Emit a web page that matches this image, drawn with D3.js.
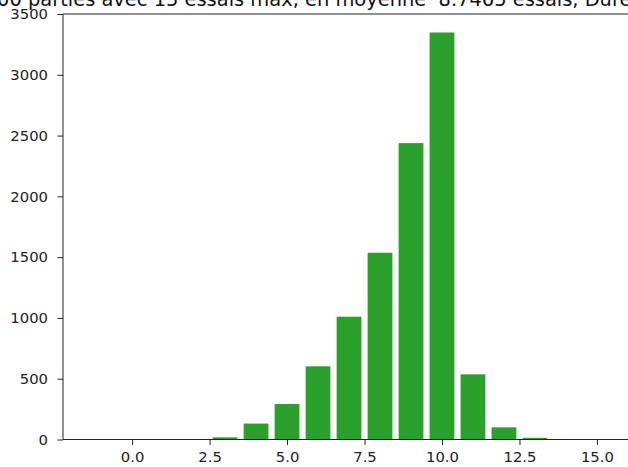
<!DOCTYPE html>
<html><head><meta charset="utf-8">
<script src="https://cdn.jsdelivr.net/npm/d3@7"></script>
<style>
html,body{margin:0;padding:0;background:#fff;overflow:hidden;}
svg{display:block;font-family:"DejaVu Sans",sans-serif;}
</style></head>
<body><svg id="c" width="628" height="467"></svg>
<script>
const titleText = "Sur 10000 parties avec 15 essais max, en moyenne  8.7465 essais, Durée : 0.51 s";
const essais = [3, 4, 5, 6, 7, 8, 9, 10, 11, 12, 13];
const parties = [18, 131, 292, 602, 1010, 1536, 2438, 3348, 536, 100, 14];
const xTicks = [0.0, 2.5, 5.0, 7.5, 10.0, 12.5, 15.0];
const yTicks = [0, 500, 1000, 1500, 2000, 2500, 3000, 3500];
const xDomain = [-2.23, 16.39];
const yDomain = [0, 3500];

const svg = d3.select("#c");
const L = 63, R = 640, T = 14, B = 439.5;
const x = d3.scaleLinear().domain(xDomain).range([L, R]);
const y = d3.scaleLinear().domain(yDomain).range([B, T]);

svg.append("g").selectAll("rect").data(essais).join("rect")
  .attr("x", (d) => x(d - 0.4))
  .attr("width", (d) => x(d + 0.4) - x(d - 0.4))
  .attr("y", (d, i) => y(parties[i]))
  .attr("height", (d, i) => y(0) - y(parties[i]))
  .attr("fill", "#2ca02c");

const FS = 14.8;
const xAxis = d3.axisBottom(x).tickValues(xTicks).tickFormat(d3.format(".1f")).tickSize(5.5).tickPadding(6);
const gx = svg.append("g").attr("transform", `translate(0,${B})`).call(xAxis);
const yAxis = d3.axisLeft(y).tickValues(yTicks).tickFormat(d3.format("d")).tickSize(5.5).tickPadding(9.5);
const gy = svg.append("g").attr("transform", `translate(${L},0)`).call(yAxis);
[gx, gy].forEach(g => {
  g.select(".domain").remove();
  g.selectAll("text").attr("font-size", FS).attr("font-family", "DejaVu Sans").attr("fill", "#222");
  g.selectAll("line").attr("stroke", "#222").attr("stroke-width", 1);
});

// spines
svg.append("line").attr("x1", L).attr("x2", L).attr("y1", T).attr("y2", B).attr("stroke", "#222").attr("stroke-width", 1);
svg.append("line").attr("x1", L).attr("x2", R).attr("y1", B).attr("y2", B).attr("stroke", "#222").attr("stroke-width", 1);
svg.append("line").attr("x1", L).attr("x2", R).attr("y1", T).attr("y2", T).attr("stroke", "#222").attr("stroke-width", 1);

// title, calibrated so "parties" starts ~28px and "Dure" ~585px
const t = svg.append("text").attr("y", 6).attr("font-size", 14).attr("fill", "#111")
  .attr("font-family", "DejaVu Sans").style("white-space", "pre").text(titleText);
const node = t.node();
const iP = titleText.indexOf("parties"), iD = titleText.indexOf("Dur");
const span = node.getSubStringLength(iP, iD - iP);
const fs = 14 * (585 - 28) / span;
t.attr("font-size", fs);
const pre = node.getSubStringLength(0, iP);
t.attr("x", 28 - pre);
</script></body></html>
